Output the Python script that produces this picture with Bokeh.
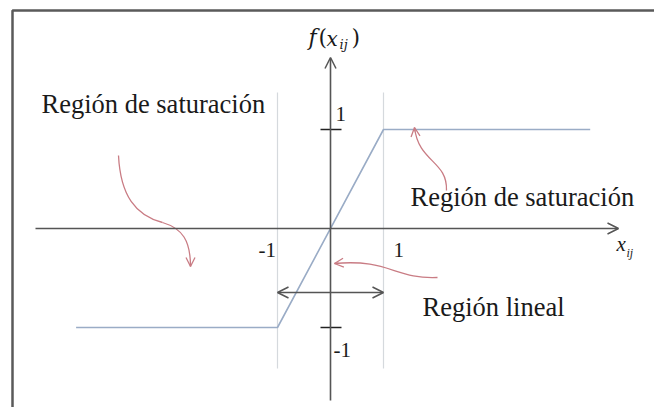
from bokeh.plotting import figure
from bokeh.models import Range1d, Arrow, OpenHead
from bokeh.core.properties import value
from bokeh.embed import file_html
from bokeh.resources import INLINE

# Saturated linear activation f(x) = clip(x, -1, 1)
break_x = [-4.8, -1.0, 1.0, 4.9]
break_y = [-1.0, -1.0, 1.0, 1.0]
x_ticks = [-1, 1]
x_tick_labels = ["-1", "1"]
y_ticks = [1, -1]
y_tick_labels = ["1", "-1"]
region_labels = ["Región de saturación", "Región de saturación", "Región lineal"]

W, H = 654, 407
OX, OY = 330.0, 228.0      # pixel position of the origin
UX, UY = 53.0, 99.0        # pixels per unit

def X(px):
    return (px - OX) / UX

def Y(py):
    return (OY - py) / UY

p = figure(width=W, height=H, output_backend="svg", toolbar_location=None,
           x_range=Range1d(X(0), X(W)), y_range=Range1d(Y(H), Y(0)),
           min_border=0)
p.axis.visible = False
p.grid.visible = False
p.outline_line_color = None
p.background_fill_color = "white"
p.border_fill_color = "white"

AX = "#555555"
FN = "#9aacc6"
GUIDE = "#d5d9dd"
RED = "#c97c84"
SERIF = value("Liberation Serif")

# frame around the drawing
p.line([X(12), X(12), X(W)], [Y(H), Y(10), Y(10)], line_color="#5a5a5a", line_width=2.5)

# guide lines at x = -1 and x = 1
for xv in x_ticks:
    p.line([xv, xv], [Y(92), Y(368)], line_color=GUIDE, line_width=1.2)

# activation function
p.line(break_x, break_y, line_color=FN, line_width=1.6)

# coordinate axes with open arrow heads
p.add_layout(Arrow(end=OpenHead(line_color=AX, line_width=1.5, size=11),
                   x_start=X(35), y_start=0, x_end=X(618), y_end=0,
                   line_color=AX, line_width=1.6))
p.add_layout(Arrow(end=OpenHead(line_color=AX, line_width=1.5, size=11),
                   x_start=0, y_start=Y(400), x_end=0, y_end=Y(57),
                   line_color=AX, line_width=1.6))

# y ticks
for yv in y_ticks:
    p.line([X(320), X(341)], [yv, yv], line_color="#222222", line_width=1.5)

# linear-region span arrow
p.add_layout(Arrow(start=OpenHead(line_color=AX, line_width=1.5, size=11),
                   end=OpenHead(line_color=AX, line_width=1.5, size=11),
                   x_start=x_ticks[0], y_start=Y(292), x_end=x_ticks[1], y_end=Y(292),
                   line_color=AX, line_width=1.6))

# curved pointer arrows
def pointer(segs):
    for (a, c0, c1, b) in segs:
        p.bezier(x0=[X(a[0])], y0=[Y(a[1])], x1=[X(b[0])], y1=[Y(b[1])],
                 cx0=[X(c0[0])], cy0=[Y(c0[1])], cx1=[X(c1[0])], cy1=[Y(c1[1])],
                 line_color=RED, line_width=1.3)
    a, c0, c1, b = segs[-1]
    dx, dy = b[0] - c1[0], b[1] - c1[1]
    n = (dx * dx + dy * dy) ** 0.5
    s = (b[0] - dx / n * 4, b[1] - dy / n * 4)
    p.add_layout(Arrow(end=OpenHead(line_color=RED, line_width=1.3, size=9),
                       x_start=X(s[0]), y_start=Y(s[1]), x_end=X(b[0]), y_end=Y(b[1]),
                       line_color=RED, line_width=1.3))

pointer([((118, 155), (120, 195), (135, 215), (162, 222)),
         ((162, 222), (182, 228), (190, 240), (190, 266))])
pointer([((446, 190), (447, 160), (418, 162), (414, 127))])
pointer([((437, 277), (395, 279), (388, 258), (334, 263))])

# region labels
p.text(x=[X(41), X(410), X(422)], y=[Y(103), Y(196), Y(306)], text=region_labels,
       text_font=SERIF, text_font_size="26.5px", text_color="#1a1a1a",
       text_baseline="middle", text_align="left")

# tick labels
p.text(x=[X(258), X(393)], y=[Y(249), Y(249)], text=x_tick_labels,
       text_font=SERIF, text_font_size="21px", text_color="#1a1a1a",
       text_baseline="middle", text_align="left")
p.text(x=[X(335), X(333)], y=[Y(113), Y(349)], text=y_tick_labels,
       text_font=SERIF, text_font_size="21px", text_color="#1a1a1a",
       text_baseline="middle", text_align="left")

# axis titles: f(x_ij) and x_ij
MATH = value("DejaVu Serif")
p.text(x=[X(308)], y=[Y(37)], text=["f"], text_font=MATH, text_font_style="italic",
       text_font_size="22px", text_color="#1a1a1a", text_baseline="middle")
p.text(x=[X(318)], y=[Y(37)], text=["("], text_font=MATH,
       text_font_size="22px", text_color="#1a1a1a", text_baseline="middle")
p.text(x=[X(326)], y=[Y(38)], text=["x"], text_font=MATH, text_font_style="italic",
       text_font_size="20px", text_color="#1a1a1a", text_baseline="middle")
p.text(x=[X(339)], y=[Y(44)], text=["ij"], text_font=MATH, text_font_style="italic",
       text_font_size="13px", text_color="#1a1a1a", text_baseline="middle")
p.text(x=[X(351)], y=[Y(37)], text=[")"], text_font=MATH,
       text_font_size="22px", text_color="#1a1a1a", text_baseline="middle")

p.text(x=[X(616)], y=[Y(243)], text=["x"], text_font=SERIF, text_font_style="italic",
       text_font_size="21px", text_color="#1a1a1a", text_baseline="middle")
p.text(x=[X(626)], y=[Y(252)], text=["ij"], text_font=SERIF, text_font_style="italic",
       text_font_size="12px", text_color="#1a1a1a", text_baseline="middle")

open("out.html", "w").write(file_html(p, INLINE))
